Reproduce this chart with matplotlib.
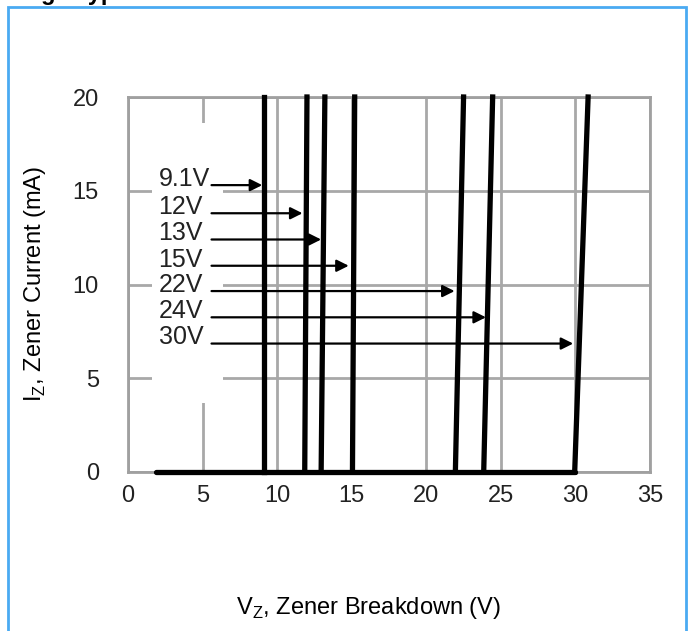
import matplotlib.pyplot as plt
from matplotlib.patches import Rectangle

plt.rcParams['font.family'] = ['Liberation Sans', 'DejaVu Sans']

# Zener curves: knee voltage at 0 mA and voltage at 20 mA
labels = ["9.1V", "12V", "13V", "15V", "22V", "24V", "30V"]
v_knee = [9.1, 11.85, 12.95, 15.05, 21.95, 23.85, 29.95]
v_top = [9.1, 12.0, 13.2, 15.2, 22.5, 24.45, 30.85]
i_max = 20
v_start = 1.85

# arrow rows: y position (mA) and where the arrow tip lands (V)
arrow_y = [15.3, 13.8, 12.4, 11.0, 9.65, 8.25, 6.85]
arrow_tip = [9.0, 11.7, 12.95, 14.8, 21.9, 24.0, 29.85]
arrow_start = 5.6
label_x = 2.05

xticks = [0, 5, 10, 15, 20, 25, 30, 35]
yticks = [0, 5, 10, 15, 20]

fig = plt.figure(figsize=(6.91, 6.31), dpi=100)
ax = fig.add_axes([128 / 691, 159 / 631, 522 / 691, 375 / 631])

# blue frame around the figure
fig.patches.append(Rectangle((8 / 691, -0.05), 678 / 691, 1 - 7 / 631 + 0.05,
                             transform=fig.transFigure, fill=False,
                             edgecolor='#4aaaf2', linewidth=2))
# title is cropped at the top edge in the source, only descenders show
fig.text(-15 / 691, 1.0, "Voltage Typical Characteristics",
         fontsize=17, fontweight='bold', va='baseline', ha='left')

ax.set_xlim(0, 35)
ax.set_ylim(0, 20)
ax.set_xticks(xticks)
ax.set_yticks(yticks)
ax.tick_params(length=0, labelsize=17, colors='#222222')
ax.tick_params(axis='x', pad=9)
ax.tick_params(axis='y', pad=21)
for s in ax.spines.values():
    s.set_color('#a0a0a0')
    s.set_linewidth(2)
ax.grid(True, color='#a8a8a8', linewidth=2)
ax.set_axisbelow(True)

# white patch behind the labels hides part of the grid
ax.add_patch(Rectangle((1.6, 3.7), 4.8, 14.9, facecolor='white',
                       edgecolor='none', zorder=1.5))

# baseline then the breakdown lines
ax.plot([v_start, v_knee[-1]], [0, 0], color='black', linewidth=3.8,
        solid_capstyle='round', zorder=3, clip_on=False)
for vk, vt in zip(v_knee, v_top):
    ax.plot([vk, vt], [0, i_max], color='black', linewidth=3.8, zorder=3,
            clip_on=False)

for lab, y, tip in zip(labels, arrow_y, arrow_tip):
    ax.text(label_x, y - 0.05, lab, fontsize=18, va='baseline', ha='left',
            color='#222222', zorder=4)
    ax.annotate("", xy=(tip, y), xytext=(arrow_start, y),
                arrowprops=dict(arrowstyle='-|>', color='black', lw=1.6,
                                mutation_scale=18, shrinkA=0, shrinkB=0),
                zorder=4)

fig.text(35 / 691, 1 - 284 / 631, r"I$_\mathregular{Z}$, Zener Current (mA)",
         rotation=90, fontsize=17, ha='center', va='center')
fig.text(369 / 691, 1 - 608 / 631, r"V$_\mathregular{Z}$, Zener Breakdown (V)",
         fontsize=17, ha='center', va='center')

fig.savefig("out.png", dpi=100)
